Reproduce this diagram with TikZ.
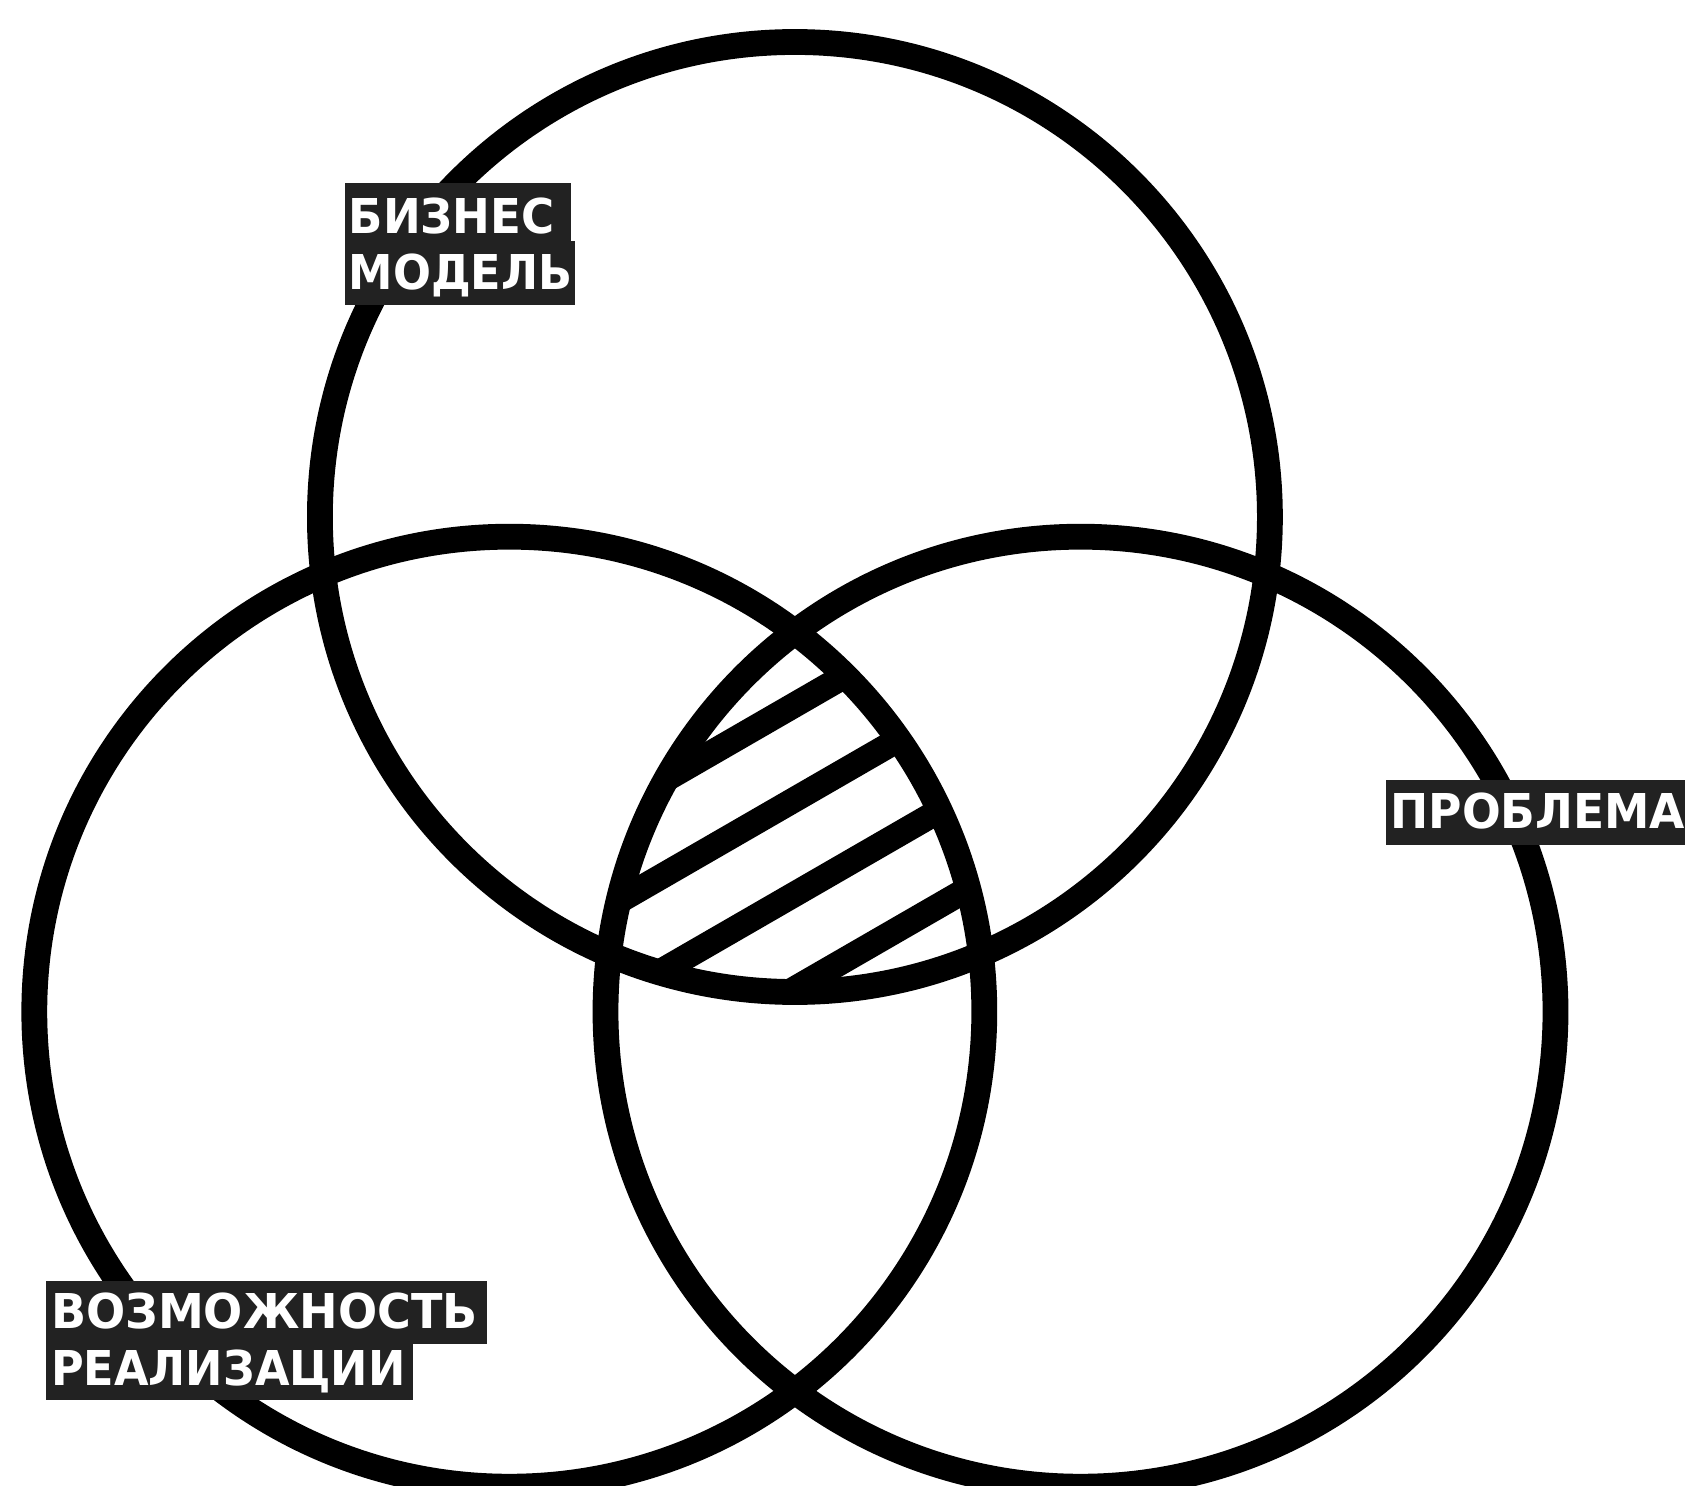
\documentclass[tikz,border=0pt]{standalone}
\usepackage{fontspec}
\newfontfamily\lblfont{DejaVu Sans}
\definecolor{boxgray}{RGB}{34,34,34}
\newcommand{\lblsq}[2]{\scalebox{#1}[1]{#2}}
\begin{document}
\begin{tikzpicture}[x=0.5pt,y=-0.5pt,
  ring/.style={draw=black,line width=12.9pt},
  hatchline/.style={draw=black,line width=12.7pt},
  lblbox/.style={fill=boxgray,draw=none},
  lbltext/.style={text=white,inner sep=0pt,anchor=base west,
    font=\lblfont\bfseries\fontsize{24pt}{28pt}\selectfont}]
\useasboundingbox (0,0) rectangle (1685,1486);
\fill[white] (0,0) rectangle (1685,1486);
\coordinate (cT) at (794.9,517);
\coordinate (cL) at (509.3,1011.7);
\coordinate (cR) at (1080.5,1011.7);
% hatching inside the common region
\begin{scope}
  \clip (cT) circle[radius=237.5pt];
  \clip (cL) circle[radius=237.5pt];
  \clip (cR) circle[radius=237.5pt];
  \foreach \d in {1007.8,1089.8,1171.8,1253.8}
    \draw[hatchline] ({0.5*\d-346.4},{0.866*\d+200}) -- ({0.5*\d+346.4},{0.866*\d-200});
\end{scope}
% circles
\draw[ring] (cT) circle[radius=237.5pt];
\draw[ring] (cL) circle[radius=237.5pt];
\draw[ring] (cR) circle[radius=237.5pt];
% labels
\fill[lblbox] (345,183.3) rectangle (571,242);
\fill[lblbox] (345,241.5) rectangle (575,305);
\node[lbltext] (bm1) at (348.3,234) {\lblsq{0.94}{БИЗНЕС}};
\node[lbltext] (bm2) at (348.3,290) {\lblsq{0.93}{МОДЕЛЬ}};
\fill[lblbox] (1386,780) rectangle (1700,845);
\node[lbltext] (pr) at (1390,828) {\lblsq{0.95}{ПРОБЛЕМА}};
\fill[lblbox] (46,1280.5) rectangle (487.3,1343.5);
\fill[lblbox] (46,1343) rectangle (412.5,1400);
\node[lbltext] (vr1) at (50.7,1328) {\lblsq{0.96}{ВОЗМОЖНОСТЬ}};
\node[lbltext] (vr2) at (50.7,1385) {\lblsq{0.93}{РЕАЛИЗАЦИИ}};
\end{tikzpicture}
\end{document}
